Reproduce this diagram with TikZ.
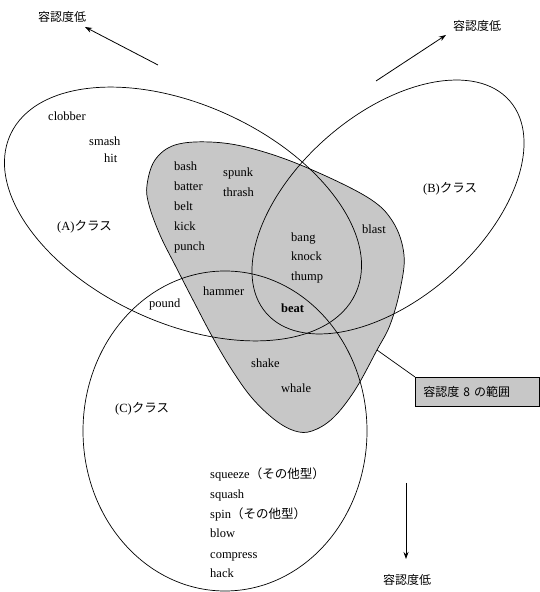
\documentclass[tikz,border=0pt]{standalone}
\usepackage{fontspec}
\setmainfont{Liberation Serif}
\newfontfamily\jp{Noto Sans CJK JP}
\usetikzlibrary{arrows.meta}
\begin{document}
\begin{tikzpicture}[x=1pt,y=1pt,
  word/.style={anchor=base west, inner sep=0pt, font=\fontsize{12.5}{15}\selectfont},
  jword/.style={anchor=base west, inner sep=0pt, font=\fontsize{12}{15}\selectfont\jp},
  outline/.style={draw=black, line width=0.7pt},
  arr/.style={line width=0.8pt, -{Stealth[length=7pt,width=5pt]}},
  shade8/.style={fill=black!22}
]
\useasboundingbox (0,0) rectangle (540,592);
\fill[white] (0,0) rectangle (540,592);
% acceptability-8 region
\path[shade8, outline] plot[smooth cycle, tension=0.6] coordinates {
 (147,407) (155,432) (175,447) (210,450) (250,444) (303,426) (367,395)
 (393,370) (404,337) (400,302) (390,267) (377,242) (355,202) (333,174)
 (312,161) (295,161) (275,172) (252,194) (232,222) (213,254) (193,292)
 (175,327) (160,357) (149,387)};
% class ellipses
\draw[outline, rotate around={-24.7:(183,378)}] (183,378) ellipse [x radius=190, y radius=109];
\draw[outline, rotate around={41.1:(388,385)}] (388,385) ellipse [x radius=161.5, y radius=92.4];
\draw[outline] (225,161) ellipse [x radius=142, y radius=160];
% words
\node[word] (clobber) at (48,471) {clobber};
\node[word] (smash) at (89,446) {smash};
\node[word] (hit) at (104,429) {hit};
\node[word] (bash) at (174,421) {bash};
\node[word] (batter) at (174,401) {batter};
\node[word] (belt) at (174,381) {belt};
\node[word] (kick) at (174,361) {kick};
\node[word] (punch) at (174,341) {punch};
\node[word] (spunk) at (223,415) {spunk};
\node[word] (thrash) at (223,395) {thrash};
\node[word] (clA) at (57,361) {(A)\jp クラス};
\node[word] (clB) at (423,399) {(B)\jp クラス};
\node[word] (blast) at (362,358) {blast};
\node[word] (bang) at (291,350) {bang};
\node[word] (knock) at (291,331) {knock};
\node[word] (thump) at (291,311) {thump};
\node[word] (hammer) at (203,296) {hammer};
\node[word] (pound) at (149,284) {pound};
\node[word, font=\fontsize{12.5}{15}\selectfont\bfseries] (beat) at (281,279) {beat};
\node[word] (shake) at (251,224) {shake};
\node[word] (whale) at (281,199) {whale};
\node[word] (clC) at (115,179) {(C)\jp クラス};
\node[word] (squeeze) at (210,113) {squeeze{\jp （その他型）}};
\node[word] (squash) at (210,93) {squash};
\node[word] (spin) at (210,73) {spin{\jp （その他型）}};
\node[word] (blow) at (210,54) {blow};
\node[word] (compress) at (210,34) {compress};
\node[word] (hack) at (210,14) {hack};
% direction labels and arrows
\node[jword] (lowTL) at (38,570) {容認度低};
\node[jword] (lowTR) at (453,561) {容認度低};
\node[jword] (lowB) at (383,7) {容認度低};
\coordinate (a1s) at (158,527); \coordinate (a1e) at (85,565);
\coordinate (a2s) at (376,511); \coordinate (a2e) at (446,557);
\coordinate (a3s) at (406,109); \coordinate (a3e) at (406,33);
\draw[arr] (a1s) -- (a1e);
\draw[arr] (a2s) -- (a2e);
\draw[arr] (a3s) -- (a3e);
% callout box
\node[shade8, draw=black, line width=0.7pt, anchor=north west, minimum height=29pt,
      text width=108pt, inner xsep=8pt, inner ysep=0pt, align=left,
      font=\fontsize{12}{15}\selectfont\jp] (box) at (415,215) {容認度 8 の範囲};
\coordinate (gp) at (377,242);
\draw[line width=0.7pt] (gp) -- (box.north west);
\end{tikzpicture}
\end{document}
